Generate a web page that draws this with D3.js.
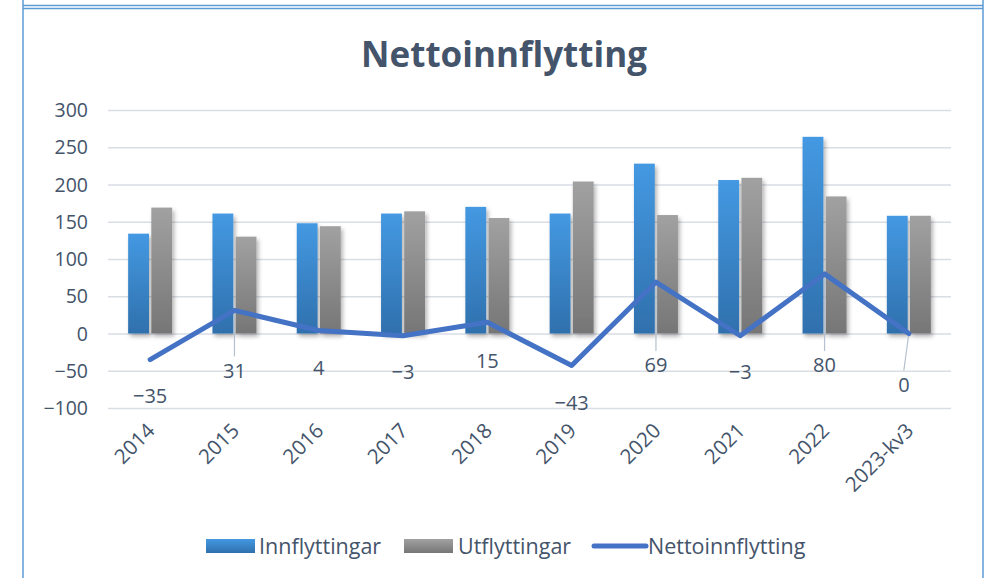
<!DOCTYPE html>
<html>
<head>
<meta charset="utf-8">
<script src="https://cdn.jsdelivr.net/npm/d3@7"></script>
<style>
    body { margin: 0; background: #fff; }
    svg text { font-family: "Open Sans", sans-serif; fill: #44546a; }
</style>
</head>
<body>
<div id="chart"></div>
<script>
// Chart data
const categories = ["2014", "2015", "2016", "2017", "2018", "2019", "2020", "2021", "2022", "2023-kv3"];
const innflyttingar = [134, 161, 148, 161, 170, 161, 228, 206, 264, 158];
const utflyttingar = [169, 130, 144, 164, 155, 204, 159, 209, 184, 158];
const nettoinnflytting = [-35, 31, 4, -3, 15, -43, 69, -3, 80, 0];
const yTicks = [-100, -50, 0, 50, 100, 150, 200, 250, 300];
const seriesNames = ["Innflyttingar", "Utflyttingar", "Nettoinnflytting"];

// label placement (pixels below the point), a few were dragged in the original
const labelDy = [36, 60, 37, 36, 38, 37, 83, 36, 91, 51];
const labelDx = [0, 0, 0, 0, 0, 0, 0, 0, 0, -5];

const W = 990, H = 578;
const plot = { left: 108, right: 951, top: 110, bottom: 408 };

const svg = d3.select("#chart").append("svg")
    .attr("width", W)
    .attr("height", H);

const defs = svg.append("defs");

const gBlue = defs.append("linearGradient").attr("id", "gradBlue")
    .attr("x1", 0).attr("y1", 0).attr("x2", 0).attr("y2", 1);
gBlue.append("stop").attr("offset", "0%").attr("stop-color", "#4499e2");
gBlue.append("stop").attr("offset", "100%").attr("stop-color", "#2f70ad");

const gGray = defs.append("linearGradient").attr("id", "gradGray")
    .attr("x1", 0).attr("y1", 0).attr("x2", 0).attr("y2", 1);
gGray.append("stop").attr("offset", "0%").attr("stop-color", "#a1a1a1");
gGray.append("stop").attr("offset", "100%").attr("stop-color", "#767676");

const shadow = defs.append("filter").attr("id", "shadow")
    .attr("x", "-30%").attr("y", "-10%").attr("width", "160%").attr("height", "130%");
shadow.append("feDropShadow")
    .attr("dx", 2).attr("dy", 3)
    .attr("stdDeviation", 2)
    .attr("flood-color", "#000")
    .attr("flood-opacity", 0.3);

// frame lines
const frame = svg.append("g").attr("stroke", "#5b9bd5").attr("stroke-width", 1.5);
frame.append("line").attr("x1", 23).attr("x2", 23).attr("y1", 0).attr("y2", H);
frame.append("line").attr("x1", 983).attr("x2", 983).attr("y1", 0).attr("y2", H);
frame.append("line").attr("x1", 23).attr("x2", 983).attr("y1", 5.5).attr("y2", 5.5);
frame.append("line").attr("x1", 23).attr("x2", 983).attr("y1", 8.5).attr("y2", 8.5);

// title
svg.append("text")
    .attr("x", 504)
    .attr("y", 67)
    .attr("text-anchor", "middle")
    .style("font-size", "35px")
    .style("font-weight", "bold")
    .text("Nettoinnflytting");

const x = d3.scaleBand().domain(categories).range([plot.left, plot.right]).padding(0);
const x1 = d3.scaleBand().domain([0, 1]).range([-22, 22]).paddingInner(0.1);
const y = d3.scaleLinear().domain([-100, 300]).range([plot.bottom, plot.top]);

// grid
svg.append("g")
    .attr("class", "grid")
    .call(d3.axisLeft(y).tickValues(yTicks).tickSize(-(plot.right - plot.left)).tickFormat(""))
    .attr("transform", `translate(${plot.left},0)`)
    .call(g => g.select(".domain").remove())
    .selectAll("line")
    .attr("stroke", "#d9dde4")
    .attr("stroke-width", 1.5);

// y axis labels
svg.append("g")
    .selectAll("text")
    .data(yTicks)
    .enter().append("text")
    .attr("x", 88)
    .attr("y", d => y(d))
    .attr("dy", "0.36em")
    .attr("text-anchor", "end")
    .style("font-size", "19.5px")
    .text(d => d3.format("d")(d));

// bars
const barGroups = svg.append("g").attr("filter", "url(#shadow)");
[innflyttingar, utflyttingar].forEach((series, si) => {
    barGroups.selectAll(".bar" + si)
        .data(series)
        .enter().append("rect")
        .attr("class", "bar" + si)
        .attr("x", (d, i) => x(categories[i]) + x.bandwidth() / 2 + x1(si))
        .attr("width", x1.bandwidth())
        .attr("y", d => y(d))
        .attr("height", d => y(0) - y(d))
        .attr("fill", si === 0 ? "url(#gradBlue)" : "url(#gradGray)");
});

const cx = i => x(categories[i]) + x.bandwidth() / 2;

// leader lines for moved labels
svg.append("g")
    .selectAll("line")
    .data(nettoinnflytting.map((v, i) => ({ v, i })).filter(d => labelDy[d.i] > 45))
    .enter().append("line")
    .attr("x1", d => cx(d.i))
    .attr("y1", d => y(d.v))
    .attr("x2", d => cx(d.i) + labelDx[d.i])
    .attr("y2", d => y(d.v) + labelDy[d.i] - 14)
    .attr("stroke", "#b4c0cf")
    .attr("stroke-width", 1.2);

// net line
const line = d3.line()
    .x((d, i) => cx(i))
    .y(d => y(d));

svg.append("path")
    .datum(nettoinnflytting)
    .attr("fill", "none")
    .attr("stroke", "#4472c4")
    .attr("stroke-width", 5)
    .attr("stroke-linecap", "round")
    .attr("stroke-linejoin", "round")
    .attr("d", line);

// data labels
svg.append("g")
    .selectAll("text")
    .data(nettoinnflytting)
    .enter().append("text")
    .attr("x", (d, i) => cx(i) + labelDx[i])
    .attr("y", (d, i) => y(d) + labelDy[i])
    .attr("dy", "0.36em")
    .attr("text-anchor", "middle")
    .style("font-size", "20px")
    .text(d => d3.format("d")(d));

// x axis labels
svg.append("g")
    .selectAll("text")
    .data(categories)
    .enter().append("text")
    .attr("transform", (d, i) => `translate(${cx(i) + 6},${432}) rotate(-45)`)
    .attr("text-anchor", "end")
    .style("font-size", "20.5px")
    .text(d => d);

// legend
const legend = svg.append("g");
legend.append("rect").attr("x", 206).attr("y", 539).attr("width", 49).attr("height", 14).attr("fill", "url(#gradBlue)");
legend.append("text").attr("x", 259).attr("y", 546).attr("dy", "0.36em").style("font-size", "21.5px").text(seriesNames[0]);
legend.append("rect").attr("x", 404).attr("y", 539).attr("width", 49).attr("height", 14).attr("fill", "url(#gradGray)");
legend.append("text").attr("x", 458).attr("y", 546).attr("dy", "0.36em").style("font-size", "21.5px").text(seriesNames[1]);
legend.append("line").attr("x1", 594).attr("x2", 646).attr("y1", 546).attr("y2", 546)
    .attr("stroke", "#4472c4").attr("stroke-width", 5).attr("stroke-linecap", "round");
legend.append("text").attr("x", 648).attr("y", 546).attr("dy", "0.36em").style("font-size", "21.5px").text(seriesNames[2]);
</script>
</body>
</html>
